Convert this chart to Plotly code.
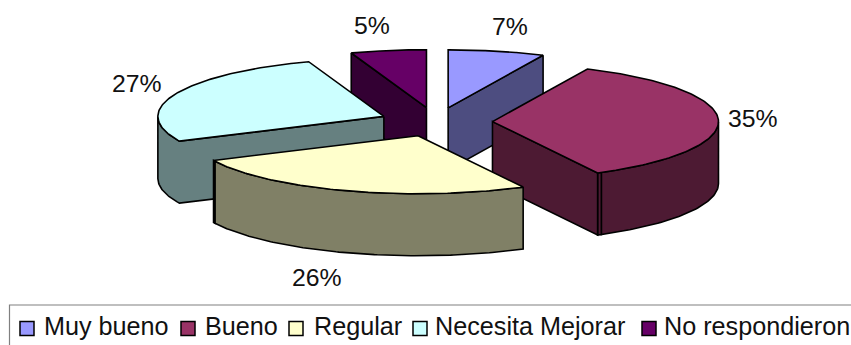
import numpy as np
import plotly.graph_objects as go

# --- data ---
categories = ["Muy bueno", "Bueno", "Regular", "Necesita Mejorar", "No respondieron"]
values = [6.9, 35.4, 25.7, 26.6, 5.4]

# --- style / layout ---
top_colors = ["#9999FF", "#993366", "#FFFFCC", "#CCFFFF", "#660066"]
side_colors = ["#4D4D80", "#4D1A33", "#808066", "#668080", "#330033"]
W, H = 851, 345
CX, CY = 436, 122          # pie centre
RX, RY = 226, 58           # ellipse radii
DEPTH = 62                 # extrusion
EXPLODE = 0.25
LINE = 1.6
draw_order = [4, 0, 3, 1, 2]   # back to front
label_pos = [(510, 26), (753, 118), (317, 277), (137, 83), (372, 25)]
legend_swatch_x = [27, 188, 296, 420, 649]
legend_text_x = [42, 203, 311.5, 433, 662]
LEGEND_Y = 328.5
LEGEND_TEXT_Y = 325.5
FONT = "Liberation Sans, Arial, sans-serif"

shares = np.array(values, dtype=float) / sum(values)
edges = np.concatenate([[0], np.cumsum(shares)]) * 2 * np.pi


def proj(theta, e=(0.0, 0.0)):
    return e[0] + CX + RX * np.sin(theta), e[1] + CY - RY * np.cos(theta)


def poly_trace(xs, ys, fill):
    xs, ys = list(xs), list(ys)
    return go.Scatter(
        x=xs + xs[:1], y=ys + ys[:1], mode="lines", fill="toself",
        fillcolor=fill, line=dict(color="black", width=LINE),
        hoverinfo="skip", showlegend=False,
    )


fig = go.Figure()

for i in draw_order:
    a0, a1 = edges[i], edges[i + 1]
    mid = (a0 + a1) / 2
    ex = (EXPLODE * RX * np.sin(mid), -EXPLODE * RY * np.cos(mid))
    apex = (CX + ex[0], CY + ex[1])
    th = np.linspace(a0, a1, 120)
    ax, ay = proj(th, ex)
    px = np.concatenate([[apex[0]], ax])
    py = np.concatenate([[apex[1]], ay])
    # closed outline in visual clockwise order; an edge moving left faces the viewer
    qx = np.append(px, px[0])
    qy = np.append(py, py[0])
    run = []
    runs = []
    for k in range(len(qx) - 1):
        visible = qx[k + 1] - qx[k] < -1e-9
        # split at the corners between arc and radial edges
        corner = k in (0, len(ax) - 1, len(ax))
        if visible:
            if not run or (corner and k != 0):
                if run:
                    runs.append(run)
                run = [k]
            run.append(k + 1)
        else:
            if run:
                runs.append(run)
            run = []
    if run:
        runs.append(run)
    for r in runs:
        wx = qx[r]
        wy = qy[r]
        fig.add_trace(poly_trace(
            np.concatenate([wx, wx[::-1]]),
            np.concatenate([wy, wy[::-1] + DEPTH]),
            side_colors[i]))
    fig.add_trace(poly_trace(px, py, top_colors[i]))

# legend swatches
for i, name in enumerate(categories):
    fig.add_trace(go.Scatter(
        x=[legend_swatch_x[i]], y=[LEGEND_Y], mode="markers",
        marker=dict(symbol="square", size=14, color=top_colors[i],
                    line=dict(color="black", width=1.5)),
        hoverinfo="skip", showlegend=False,
    ))

annotations = []
for i, v in enumerate(values):
    annotations.append(dict(
        x=label_pos[i][0], y=label_pos[i][1], text=f"{round(v)}%", showarrow=False,
        xref="x", yref="y", xanchor="center", yanchor="middle",
        font=dict(family=FONT, size=24.8, color="#111111"),
    ))
for i, name in enumerate(categories):
    annotations.append(dict(
        x=legend_text_x[i], y=LEGEND_TEXT_Y, text=name, showarrow=False,
        xref="x", yref="y", xanchor="left", yanchor="middle",
        font=dict(family=FONT, size=25.2, color="#111111"),
    ))

fig.update_layout(
    width=W, height=H, margin=dict(l=0, r=0, t=0, b=0),
    paper_bgcolor="white", plot_bgcolor="white", showlegend=False,
    xaxis=dict(range=[0, W], visible=False, fixedrange=True),
    yaxis=dict(range=[H, 0], visible=False, fixedrange=True),
    annotations=annotations,
    shapes=[dict(type="rect", xref="x", yref="y", x0=9.5, y0=305, x1=W + 20, y1=H + 20,
                 line=dict(color="#808080", width=1.2), fillcolor="rgba(0,0,0,0)", layer="below")],
)

fig.write_html(
    "out.html",
    config={"displayModeBar": False},
    post_script="document.body.style.margin='0';document.body.style.overflow='hidden';",
)
